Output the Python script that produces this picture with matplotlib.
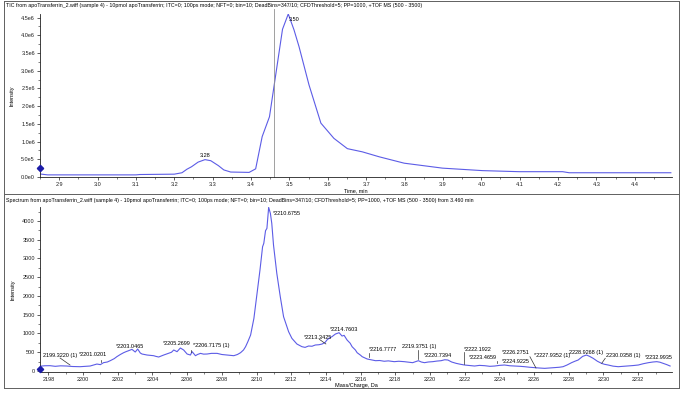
import matplotlib
matplotlib.use("Agg")
import matplotlib.pyplot as plt
from matplotlib.lines import Line2D
from matplotlib.ticker import MultipleLocator, FixedLocator, FixedFormatter

plt.rcParams['font.family'] = ['Liberation Sans', 'DejaVu Sans']

# ---------------- data ----------------
tic_time = [2.85, 2.87, 2.90, 3.00, 3.10, 3.11, 3.20, 3.22, 3.233, 3.245, 3.262, 3.28,
            3.295, 3.315, 3.329, 3.347, 3.395, 3.412, 3.429, 3.448, 3.482, 3.497,
            3.512, 3.525, 3.551, 3.582, 3.616, 3.651, 3.69, 3.734, 3.799, 3.899,
            4.003, 4.099, 4.212, 4.229, 4.494]
tic_int = [0.085, 0.06, 0.06, 0.06, 0.06, 0.07, 0.08, 0.12, 0.22, 0.29, 0.42, 0.49,
           0.46, 0.32, 0.20, 0.14, 0.13, 0.23, 1.14, 1.70, 4.17, 4.60,
           4.15, 3.68, 2.60, 1.52, 1.09, 0.80, 0.71, 0.57, 0.39, 0.25,
           0.18, 0.15, 0.15, 0.12, 0.12]  # x 1e6
tic_peaks = [(3.28, 0.49, "3.28"), (3.497, 4.60, "3.50")]
spectrum_time = 3.460

mz = [2197.55, 2197.8, 2198.1, 2198.4, 2198.7, 2199.06, 2199.4, 2199.83, 2200.1, 2200.41,
      2200.8, 2201.0, 2201.18, 2201.4, 2201.57, 2201.8, 2201.95, 2202.15, 2202.34, 2202.5,
      2202.62, 2202.82, 2203.01, 2203.15, 2203.3, 2203.4, 2203.69, 2203.9, 2204.07, 2204.2,
      2204.36, 2204.5, 2204.65, 2204.8, 2204.94, 2205.1, 2205.23, 2205.42, 2205.61, 2205.8,
      2206.0, 2206.19, 2206.29, 2206.48, 2206.6, 2206.77, 2206.95, 2207.15, 2207.4, 2207.73,
      2208.0, 2208.31, 2208.5, 2208.69, 2208.9, 2209.08, 2209.25, 2209.37, 2209.5, 2209.66,
      2209.85, 2210.04, 2210.2, 2210.35, 2210.42, 2210.52, 2210.6, 2210.7, 2210.8, 2210.88,
      2210.98, 2211.17, 2211.37, 2211.56, 2211.72, 2211.85, 2212.04, 2212.33, 2212.62, 2212.8,
      2213.0, 2213.2, 2213.39, 2213.6, 2213.78, 2213.95, 2214.06, 2214.2, 2214.35, 2214.55,
      2214.76, 2214.93, 2215.05, 2215.22, 2215.4, 2215.51, 2215.7, 2215.8, 2216.0, 2216.09,
      2216.38, 2216.6, 2216.86, 2217.1, 2217.36, 2217.6, 2217.94, 2218.2, 2218.52, 2218.75,
      2219.0, 2219.33, 2219.5, 2219.68, 2219.9, 2220.16, 2220.4, 2220.64, 2220.85, 2221.03,
      2221.25, 2221.51, 2221.75, 2221.99, 2222.3, 2222.57, 2222.85, 2223.15, 2223.45, 2223.73,
      2224.0, 2224.3, 2224.6, 2224.88, 2225.2, 2225.46, 2225.75, 2226.04, 2226.3, 2226.61,
      2226.9, 2227.19, 2227.45, 2227.67, 2227.9, 2228.16, 2228.35, 2228.54, 2228.8, 2229.02,
      2229.2, 2229.41, 2229.65, 2229.89, 2230.05, 2230.27, 2230.55, 2230.85, 2231.15, 2231.43,
      2231.7, 2232.01, 2232.3, 2232.59, 2232.85, 2233.07, 2233.25, 2233.45, 2233.65, 2233.84]
intensity = [130, 140, 142, 125, 138, 133, 120, 115, 122, 133,
             186, 170, 222, 240, 275, 330, 382, 440, 488, 520,
             540, 577, 506, 586, 480, 453, 426, 415, 408, 390,
             373, 400, 426, 450, 470, 500, 560, 515, 613, 560,
             453, 426, 515, 408, 440, 470, 450, 453, 470, 470,
             440, 426, 415, 408, 440, 488, 560, 648, 780, 959,
             1403, 2113, 2690, 3312, 3401, 3738, 3800, 4360, 4200, 3934,
             3357, 2602, 1980, 1447, 1225, 1048, 870, 719, 648, 630,
             666, 660, 693, 700, 719, 760, 826, 880, 915, 986,
             1021, 932, 950, 826, 740, 648, 560, 488, 420, 382,
             320, 300, 275, 280, 260, 270, 249, 260, 249, 235,
             222, 275, 240, 222, 240, 249, 265, 275, 300, 293,
             240, 204, 180, 160, 145, 133, 150, 142, 125, 133,
             150, 160, 140, 133, 125, 115, 100, 89, 80, 71,
             80, 89, 100, 115, 160, 222, 260, 293, 390, 426,
             390, 337, 260, 204, 180, 160, 130, 115, 125, 133,
             145, 160, 195, 222, 240, 249, 235, 204, 170, 133]

# peak labels: text, text anchor (m/z, intensity)
peak_labels = ["2199.3220 (1)", "*2201.0201", "*2203.0465", "*2205.2699", "*2206.7175 (1)",
               "*2210.6755", "*2213.3425", "*2214.7603", "*2216.7777", "2219.3751 (1)",
               "*2220.7394", "*2222.1922", "*2223.4659", "*2226.2751", "*2224.9225",
               "*2227.9352 (1)", "2228.9268 (1)", "2230.0358 (1)", "*2232.9935"]
label_mz = [2197.69, 2199.77, 2201.92, 2204.58, 2206.36, 2210.93, 2212.72, 2214.23, 2216.48,
            2218.39, 2219.66, 2221.97, 2222.26, 2224.17, 2224.17, 2226.02, 2228.04, 2230.12,
            2232.37]
label_int = [426, 453, 666, 746, 693, 4184, 906, 1119, 560, 666, 400, 586, 373, 480, 266,
             400, 506, 400, 373]
# leader lines: (x0, y0, x1, y1)
leaders = [(2198.68, 346, 2199.25, 160), (2201.02, 230, 2201.02, 290),
           (2206.25, 500, 2206.25, 560), (2213.62, 845, 2214.0, 720),
           (2216.5, 380, 2216.5, 480), (2219.31, 560, 2219.31, 330),
           (2221.97, 506, 2221.97, 200), (2223.88, 260, 2223.88, 210),
           (2225.76, 381, 2226.11, 80), (2230.1, 338, 2229.9, 205)]

title_top = ("TIC from apoTransferrin_2.wiff (sample 4) - 10pmol apoTransferrin; ITC=0; 100ps mode; "
             "NFT=0; bin=10; DeadBins=347/10; CFDThreshold=5; PP=1000, +TOF MS (500 - 3500)")
title_bot = ("Spectrum from apoTransferrin_2.wiff (sample 4) - 10pmol apoTransferrin; ITC=0; 100ps mode; "
             "NFT=0; bin=10; DeadBins=347/10; CFDThreshold=5; PP=1000, +TOF MS (500 - 3500) from 3.460 min")

top_yticks = [0, 0.5, 1.0, 1.5, 2.0, 2.5, 3.0, 3.5, 4.0, 4.5]
top_ylabels = ["0.0e0", "5.0e5", "1.0e6", "1.5e6", "2.0e6", "2.5e6", "3.0e6", "3.5e6", "4.0e6", "4.5e6"]

# ---------------- figure ----------------
W, H = 682, 393
fig = plt.figure(figsize=(W / 100, H / 100), dpi=100)
fig.patch.set_facecolor("white")

FS = 4.0
FS_T = 3.75
LINE = "#5c5ce6"


def fx(px):
    return px / W


def fy(py):
    return 1 - py / H


ax1 = fig.add_axes([fx(40), fy(177), fx(632), 163 / H])
ax2 = fig.add_axes([fx(40), fy(371.5), fx(632), 164.5 / H])

for ax in (ax1, ax2):
    ax.set_facecolor("white")
    for s in ("top", "right"):
        ax.spines[s].set_visible(False)
    for s in ("left", "bottom"):
        ax.spines[s].set_linewidth(0.6)
        ax.spines[s].set_color("#202020")
    ax.tick_params(which="major", length=2.2, width=0.5, labelsize=FS, pad=1.5, colors="#202020")
    ax.tick_params(which="minor", length=1.3, width=0.4, colors="#202020")

# top panel
ax1.plot(tic_time, tic_int, color=LINE, lw=0.8)
ax1.set_xlim(2.85, 4.497)
ax1.set_ylim(0, 4.6)
ax1.xaxis.set_major_locator(MultipleLocator(0.1))
ax1.xaxis.set_minor_locator(MultipleLocator(0.05))
ax1.xaxis.set_major_formatter(plt.FuncFormatter(lambda v, p: f"{v:.1f}"))
ax1.yaxis.set_major_locator(FixedLocator(top_yticks))
ax1.yaxis.set_major_formatter(FixedFormatter(top_ylabels))
ax1.yaxis.set_minor_locator(MultipleLocator(0.25))
ax1.axvline(spectrum_time, ymin=0, ymax=1.03, color="#909090", lw=0.6, clip_on=False)
for t, v, s in tic_peaks:
    if s == "3.28":
        ax1.text(t, v + 0.05, s, fontsize=FS, ha="center", va="bottom")
    else:
        ax1.text(t + 0.002, v - 0.08, s, fontsize=FS, ha="left", va="top")
ax1.plot([2.85], [0.246], marker="D", ms=3.2, color="#1c1ca8", clip_on=False, zorder=5)
ax1.set_ylabel("Intensity", fontsize=FS, labelpad=5)
ax1.set_xlabel("Time, min", fontsize=FS, labelpad=1)

# bottom panel
ax2.plot(mz, intensity, color=LINE, lw=0.8)
ax2.set_xlim(2197.52, 2233.95)
ax2.set_ylim(-13, 4370)
ax2.xaxis.set_major_locator(MultipleLocator(2))
ax2.xaxis.set_minor_locator(MultipleLocator(1))
ax2.yaxis.set_major_locator(MultipleLocator(500))
ax2.yaxis.set_minor_locator(MultipleLocator(250))
for s, x, y in zip(peak_labels, label_mz, label_int):
    ax2.text(x, y, s, fontsize=FS, ha="left", va="center")
for x0, y0, x1, y1 in leaders:
    ax2.plot([x0, x1], [y0, y1], color="#303030", lw=0.5)
ax2.plot([2197.52], [45], marker="D", ms=3.2, color="#1c1ca8", clip_on=False, zorder=5)
ax2.set_ylabel("Intensity", fontsize=FS, labelpad=5)
ax2.set_xlabel("Mass/Charge, Da", fontsize=FS, labelpad=1)

# titles
fig.text(fx(6), fy(5), title_top, fontsize=FS_T, ha="left", va="center")
fig.text(fx(6), fy(201), title_bot, fontsize=FS_T, ha="left", va="center")

# frame lines
fc = "#606060"
for (x0, y0, x1, y1) in [(3.5, 1, 679, 1), (3.5, 1, 3.5, 388), (679, 1, 679, 388),
                         (3.5, 388, 679, 388), (3.5, 194, 679, 194)]:
    fig.add_artist(Line2D([fx(x0), fx(x1)], [fy(y0), fy(y1)], color=fc, lw=0.7))

fig.savefig("out.png", dpi=100, facecolor="white")
